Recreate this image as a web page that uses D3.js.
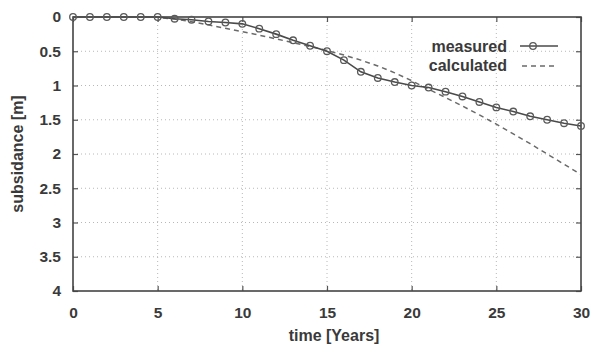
<!DOCTYPE html>
<html>
<head>
<meta charset="utf-8">
<script src="https://cdn.jsdelivr.net/npm/d3@7"></script>
<style>
  html, body { margin: 0; padding: 0; background: #fff; }
  svg { display: block; }
  text { font-family: "Liberation Sans", Arial, sans-serif; font-weight: bold; fill: #3a3a3a; }
</style>
</head>
<body>
<svg id="chart" width="592" height="346"></svg>
<script>
const years = d3.range(0, 31);
const measured = [0, 0, 0, 0, 0, 0, 0.025, 0.04, 0.065, 0.08, 0.10, 0.17, 0.25, 0.34, 0.42, 0.50, 0.63, 0.80, 0.89, 0.95, 1.0, 1.03, 1.09, 1.16, 1.24, 1.32, 1.38, 1.45, 1.50, 1.55, 1.59];
const calculated = [0, 0, 0, 0, 0, 0.005, 0.03, 0.07, 0.115, 0.165, 0.215, 0.265, 0.32, 0.375, 0.43, 0.49, 0.555, 0.63, 0.715, 0.815, 0.93, 1.055, 1.175, 1.30, 1.43, 1.565, 1.705, 1.85, 2.00, 2.15, 2.30];
const xTicks = [0, 5, 10, 15, 20, 25, 30];
const yTicks = [0, 0.5, 1, 1.5, 2, 2.5, 3, 3.5, 4];
const seriesNames = ["measured", "calculated"];
const xTitle = "time [Years]";
const yTitle = "subsidance [m]";

const svg = d3.select("#chart");
const L = 73, R = 581, T = 17, B = 291;
const x = d3.scaleLinear().domain([0, 30]).range([L, R]);
const y = d3.scaleLinear().domain([0, 4]).range([T, B]);

// grid
const g = svg.append("g");
g.selectAll(".gx").data(xTicks.slice(1, -1)).enter().append("line")
  .attr("x1", d => x(d)).attr("x2", d => x(d)).attr("y1", T).attr("y2", B)
  .attr("stroke", "#b8b8b8").attr("stroke-width", 1).attr("stroke-dasharray", "1,3");
g.selectAll(".gy").data(yTicks.slice(1, -1)).enter().append("line")
  .attr("x1", L).attr("x2", R).attr("y1", d => y(d)).attr("y2", d => y(d))
  .attr("stroke", "#b8b8b8").attr("stroke-width", 1).attr("stroke-dasharray", "1,3");

// axes with inward ticks
const ax = d3.axisBottom(x).tickValues(xTicks).tickSize(-5).tickPadding(16).tickFormat(d3.format("d"));
const ay = d3.axisLeft(y).tickValues(yTicks).tickSize(-5).tickPadding(12).tickFormat(d => String(d));
const axB = svg.append("g").attr("transform", `translate(0,${B})`).call(ax);
const axL = svg.append("g").attr("transform", `translate(${L},0)`).call(ay);
const axT = svg.append("g").attr("transform", `translate(0,${T})`).call(d3.axisTop(x).tickValues(xTicks).tickSize(-5).tickFormat(""));
const axR = svg.append("g").attr("transform", `translate(${R},0)`).call(d3.axisRight(y).tickValues(yTicks).tickSize(-5).tickFormat(""));
[axB, axL, axT, axR].forEach(a => {
  a.select(".domain").remove();
  a.selectAll(".tick line").attr("stroke", "#555").attr("stroke-width", 1.2);
  a.selectAll("text").attr("font-size", 15.5).attr("fill", "#3a3a3a").style("font-weight", "bold");
});

// frame
svg.append("rect").attr("x", L).attr("y", T).attr("width", R - L).attr("height", B - T)
  .attr("fill", "none").attr("stroke", "#444").attr("stroke-width", 1.6);

// calculated dashed
const line = d3.line().x((d, i) => x(years[i])).y(d => y(d));
svg.append("path").datum(calculated).attr("d", line)
  .attr("fill", "none").attr("stroke", "#6a6a6a").attr("stroke-width", 1.5).attr("stroke-dasharray", "5,4");

// measured
svg.append("path").datum(measured).attr("d", line)
  .attr("fill", "none").attr("stroke", "#4a4a4a").attr("stroke-width", 1.6);
svg.selectAll(".pt").data(measured).enter().append("circle")
  .attr("cx", (d, i) => x(years[i])).attr("cy", d => y(d)).attr("r", 3.3)
  .attr("fill", "none").attr("stroke", "#5a5a5a").attr("stroke-width", 1.3);

// legend
svg.append("text").attr("x", 507).attr("y", 51.5).attr("text-anchor", "end").attr("font-size", 16).text(seriesNames[0]);
svg.append("text").attr("x", 507).attr("y", 71).attr("text-anchor", "end").attr("font-size", 16).text(seriesNames[1]);
svg.append("line").attr("x1", 520).attr("x2", 558).attr("y1", 46).attr("y2", 46)
  .attr("stroke", "#4a4a4a").attr("stroke-width", 1.6);
svg.append("circle").attr("cx", 533).attr("cy", 46).attr("r", 3.3)
  .attr("fill", "none").attr("stroke", "#5a5a5a").attr("stroke-width", 1.3);
svg.append("line").attr("x1", 522).attr("x2", 558).attr("y1", 66).attr("y2", 66)
  .attr("stroke", "#6a6a6a").attr("stroke-width", 1.5).attr("stroke-dasharray", "5,4");

// titles
svg.append("text").attr("x", 334).attr("y", 341).attr("text-anchor", "middle").attr("font-size", 16).text(xTitle);
svg.append("text").attr("transform", "translate(23,154) rotate(-90)").attr("text-anchor", "middle").attr("font-size", 16).text(yTitle);
</script>
</body>
</html>
